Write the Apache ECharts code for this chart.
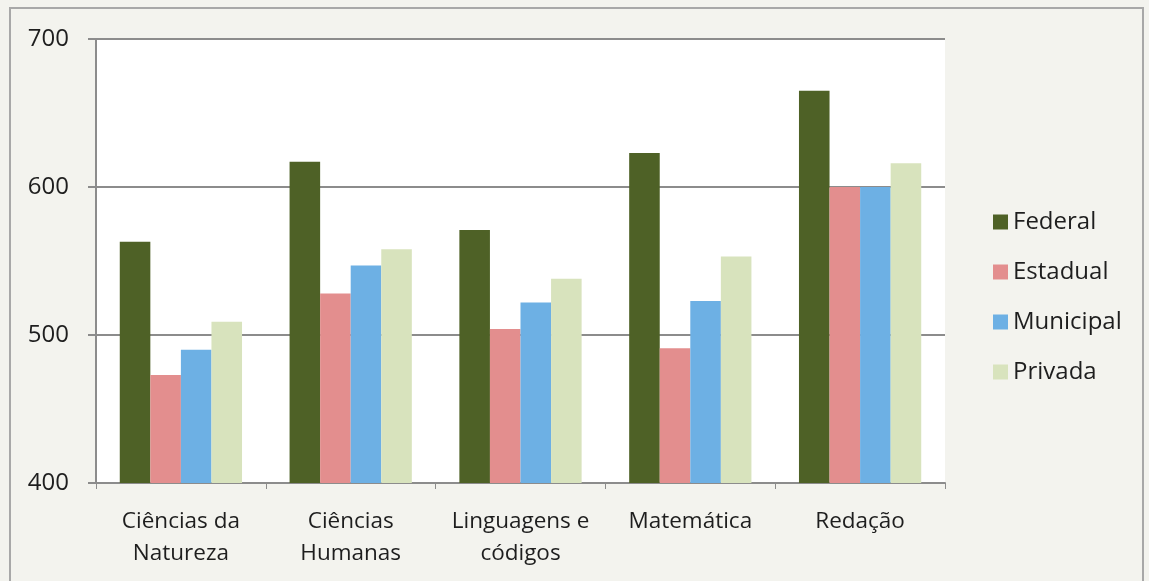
<!DOCTYPE html>
<html>
<head>
<meta charset="utf-8">
<script src="https://cdn.jsdelivr.net/npm/echarts@6/dist/echarts.min.js"></script>
<style>
html,body{margin:0;padding:0;background:#f3f3ee;}
#chart{width:1149px;height:581px;}
</style>
</head>
<body>
<div id="chart"></div>
<script>
const categories = ['Ciências da\nNatureza', 'Ciências\nHumanas', 'Linguagens e\ncódigos', 'Matemática', 'Redação'];
const seriesNames = ['Federal', 'Estadual', 'Municipal', 'Privada'];
const federal   = [563, 617, 571, 623, 665];
const estadual  = [473, 528, 504, 491, 600];
const municipal = [490, 547, 522, 523, 600];
const privada   = [509, 558, 538, 553, 616];
const yTicks = [400, 500, 600, 700];

const colors = ['#4e6126', '#e38e8e', '#6db0e4', '#d8e3bd'];
const values = [federal, estadual, municipal, privada];
const font = '"Open Sans", "Liberation Sans", sans-serif';

const chart = echarts.init(document.getElementById('chart'));
chart.setOption({
  backgroundColor: '#f3f3ee',
  animation: false,
  color: colors,
  graphic: [{
    type: 'rect',
    shape: { x: 10, y: 8, width: 1133, height: 620 },
    style: { fill: 'none', stroke: '#a8a8a8', lineWidth: 2 },
    z: 100
  }],
  grid: {
    left: 96, right: 204, top: 39, bottom: 98,
    show: true, backgroundColor: '#ffffff', borderWidth: 0
  },
  legend: {
    orient: 'vertical',
    left: 988, top: 205,
    itemWidth: 15, itemHeight: 15,
    itemGap: 26,
    icon: 'rect',
    textStyle: { fontFamily: font, fontSize: 24, color: '#1e1e1e' },
    data: seriesNames
  },
  xAxis: {
    type: 'category',
    data: categories,
    axisLine: { lineStyle: { color: '#8c8c8c', width: 2 } },
    axisTick: { show: true, length: 6, lineStyle: { color: '#8c8c8c', width: 1 } },
    axisLabel: { fontFamily: font, fontSize: 22.5, lineHeight: 32, color: '#1e1e1e', margin: 23, interval: 0 }
  },
  yAxis: {
    type: 'value',
    min: yTicks[0], max: yTicks[yTicks.length - 1], interval: 100,
    axisLine: { show: true, lineStyle: { color: '#8c8c8c', width: 2 } },
    axisTick: { show: true, length: 8, lineStyle: { color: '#8c8c8c', width: 2 } },
    splitLine: { lineStyle: { color: '#8c8c8c', width: 2 } },
    axisLabel: { fontFamily: font, fontSize: 24, color: '#1e1e1e', margin: 27 }
  },
  series: seriesNames.map((name, i) => ({
    name: name,
    type: 'bar',
    data: values[i],
    barGap: '0%',
    barCategoryGap: '28%',
    itemStyle: { color: colors[i] }
  }))
});
</script>
</body>
</html>
